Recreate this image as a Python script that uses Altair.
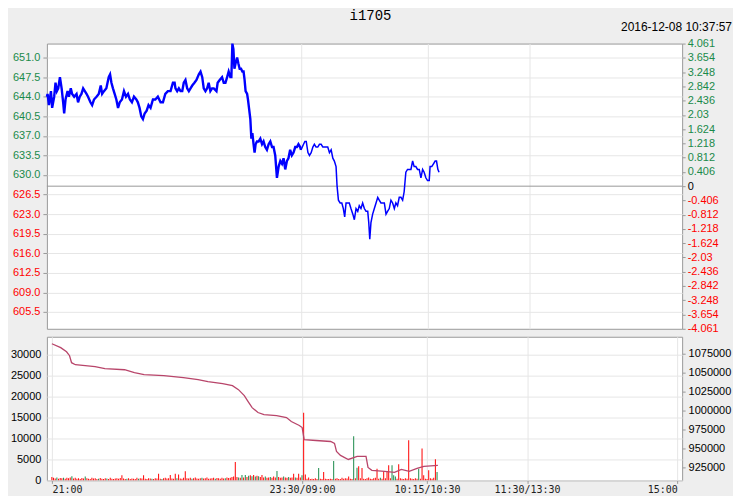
import altair as alt
import pandas as pd

# ---------------- data ----------------
TITLE = "i1705"
STAMP = "2016-12-08 10:37:57"
PREV_SETTLE = 628.0
PCT_MAX = 4.061

# trading-minute axis: 0=21:00, 150=23:30/09:00, 225=10:15/10:30, 285=11:30/13:30, 375=15:00
x_tick_vals = [0, 150, 225, 285, 375]
x_tick_labels = ["21:00", "23:30/09:00", "10:15/10:30", "11:30/13:30", "15:00"]

price_ticks = [651.0, 647.5, 644.0, 640.5, 637.0, 633.5, 630.0, 626.5, 623.0, 619.5, 616.0, 612.5, 609.0, 605.5]
pct_ticks = [4.061, 3.654, 3.248, 2.842, 2.436, 2.03, 1.624, 1.218, 0.812, 0.406, 0,
             -0.406, -0.812, -1.218, -1.624, -2.03, -2.436, -2.842, -3.248, -3.654, -4.061]
vol_ticks = [0, 5000, 10000, 15000, 20000, 25000, 30000]
oi_ticks = [925000, 950000, 975000, 1000000, 1025000, 1050000, 1075000]

night_t = [0.0, 0.4, 1.2, 2.4, 3.1, 4.3, 5.1, 5.9, 6.7, 7.7, 8.7, 9.6, 10.2, 11.0, 12.2, 13.0, 14.1, 14.9,
           16.1, 17.5, 18.4, 19.4, 20.4, 21.4, 22.4, 23.4, 24.3, 25.7, 26.7, 27.8, 29.3, 30.6, 31.8, 32.6,
           33.7, 35.1, 36.5, 37.3, 38.1, 39.0, 40.0, 41.0, 42.0, 43.0, 44.3, 45.5, 46.7, 47.9, 49.0, 50.2,
           51.4, 52.8, 53.7, 54.7, 55.7, 56.7, 57.7, 58.9, 60.0, 61.2, 62.6, 64.0, 65.5, 67.1, 68.5, 69.9,
           71.4, 73.0, 74.4, 75.4, 75.9, 76.9, 77.9, 78.9, 79.9, 80.8, 81.8, 82.8, 83.8, 84.8, 85.8, 87.1,
           88.3, 89.7, 90.7, 91.7, 92.6, 93.6, 94.6, 95.5, 96.5, 97.5, 98.5, 100.1, 100.8, 102.0, 103.4,
           104.4, 105.4, 106.4, 107.3, 108.3, 108.9, 109.5, 110.1, 110.7, 111.4, 112.3, 113.0, 113.8,
           114.6, 115.4, 116.1, 116.7, 117.3, 118.2, 118.7, 119.3, 120.1, 120.7, 121.3, 122.0, 122.6,
           123.2, 124.0, 125.0, 126.0, 127.0, 127.9, 128.9, 129.9, 130.9, 131.9, 132.9, 133.8, 134.8,
           135.8, 136.8, 137.8, 138.8, 139.7, 140.7, 141.7, 142.6, 143.6, 144.6, 145.6, 146.6, 147.6,
           148.5, 149.5, 150.0]
night_p = [644.0, 644.5, 642.5, 645.0, 642.0, 644.0, 646.5, 645.0, 645.5, 647.5, 645.5, 643.0, 641.0, 643.5,
           645.0, 644.0, 645.5, 644.5, 644.0, 644.5, 643.0, 644.0, 644.5, 645.5, 645.0, 644.5, 644.0, 643.0,
           642.5, 643.5, 644.0, 644.5, 646.0, 644.5, 645.0, 645.5, 647.5, 648.0, 646.5, 645.5, 644.5, 643.5,
           642.0, 643.0, 643.5, 645.0, 644.0, 644.5, 643.5, 643.0, 644.0, 643.5, 643.0, 642.0, 640.5, 640.0,
           641.0, 641.5, 642.5, 642.0, 643.5, 643.5, 644.0, 643.0, 643.0, 644.5, 645.0, 645.0, 646.5, 646.5,
           645.5, 645.0, 645.5, 645.0, 645.0, 646.5, 647.0, 645.5, 645.0, 645.5, 646.0, 646.5, 647.0, 648.0,
           648.5, 647.5, 645.5, 645.0, 645.5, 646.5, 645.0, 645.5, 645.5, 645.0, 646.5, 647.0, 647.5, 646.5,
           646.5, 647.5, 648.5, 647.5, 647.5, 653.5, 652.5, 649.0, 650.0, 651.0, 650.0, 649.0, 649.0, 648.5,
           648.5, 647.0, 645.0, 644.5, 643.5, 642.0, 640.0, 636.5, 637.5, 635.5, 634.0, 635.5, 636.0, 636.0,
           636.5, 635.5, 636.0, 635.0, 634.5, 635.5, 636.0, 635.0, 635.0, 633.5, 629.5, 631.5, 632.5, 632.0,
           633.0, 631.0, 632.5, 633.0, 634.5, 633.5, 634.0, 635.0, 635.0, 635.5, 635.0, 634.5]

day_t = [150.0, 151.5, 152.3, 153.1, 154.1, 155.0, 156.0, 157.0, 157.9, 158.9, 159.9, 160.9, 161.9, 162.9,
         163.8, 164.8, 165.8, 166.8, 167.8, 168.8, 169.7, 170.7, 171.3, 172.1, 173.1, 174.1, 175.0, 175.8,
         176.6, 177.6, 178.5, 179.5, 180.6, 181.5, 182.5, 183.5, 184.4, 185.4, 186.4, 187.4, 188.4, 189.4,
         190.0, 190.6, 191.3, 192.3, 193.3, 194.3, 195.3, 196.2, 197.2, 198.2, 199.2, 200.2, 201.1, 202.1,
         203.1, 204.1, 205.1, 206.0, 207.0, 208.0, 209.0, 210.0, 210.9, 211.9, 212.9, 213.9, 214.9, 215.9,
         216.8, 217.8, 218.8, 219.8, 220.8, 221.8, 222.7, 223.7, 224.7, 225.7, 226.2, 227.2, 228.2, 229.2,
         230.0, 230.8, 231.5]
day_p = [634.5, 635.5, 636.0, 636.0, 634.0, 633.5, 634.0, 635.0, 635.5, 635.0, 635.0, 635.5, 635.5, 635.0,
         635.0, 635.0, 635.0, 634.0, 634.5, 633.0, 632.5, 631.5, 628.0, 625.5, 625.0, 625.0, 624.0, 622.5,
         625.0, 625.0, 625.0, 624.0, 623.0, 622.0, 624.0, 623.5, 624.5, 624.0, 625.0, 624.0, 623.5, 623.5,
         621.5, 618.5, 621.5, 623.0, 624.0, 625.0, 626.0, 625.5, 625.0, 625.0, 625.0, 623.0, 623.5, 624.0,
         625.5, 625.0, 624.0, 625.0, 624.5, 626.0, 626.0, 625.5, 627.0, 630.5, 631.0, 631.0, 631.0, 632.5,
         631.5, 631.5, 631.0, 631.0, 629.5, 631.0, 630.5, 629.5, 629.0, 629.0, 631.5, 631.5, 632.0, 632.5,
         632.5, 631.0, 630.5]

# volume per trading minute (0..231) and bar direction (R up / G down)
volume = [
    800, 600, 450, 700, 400, 550, 500, 650, 400, 600,
    500, 700, 1000, 450, 600, 400, 500, 350, 550, 450,
    950, 500, 400, 350, 600, 450, 500, 300, 400, 550,
    400, 350, 500, 450, 300, 600, 400, 350, 450, 500,
    400, 550, 1200, 450, 350, 400, 500, 300, 450, 400,
    350, 600, 400, 500, 450, 1200, 400, 350, 500, 450,
    400, 350, 500, 450, 1600, 400, 350, 500, 600, 450,
    500, 1300, 450, 400, 1600, 500, 1400, 450, 400, 600,
    2150, 500, 450, 600, 400, 500, 700, 450, 400, 500,
    600, 450, 500, 700, 400, 450, 500, 600, 400, 550,
    500, 400, 600, 450, 500, 700, 550, 600, 800, 900,
    4400, 800, 700, 600, 1300, 700, 1300, 800, 1100, 1200,
    1000, 1300, 900, 1100, 1000, 800, 1300, 700, 900, 600,
    700, 800, 600, 900, 700, 2250, 800, 600, 700, 900,
    700, 600, 800, 600, 700, 1600, 700, 600, 1600, 700,
    1200, 16150, 1400, 400, 700, 300, 400, 300, 500, 300,
    2960, 400, 300, 2000, 400, 300, 350, 400, 300, 4640,
    400, 500, 350, 300, 600, 400, 500, 450, 950, 400,
    300, 10560, 500, 3040, 3360, 500, 2960, 400, 300, 500,
    700, 400, 300, 500, 600, 2800, 400, 600, 400, 2160,
    500, 2240, 3600, 500, 3600, 1200, 900, 400, 3840, 500,
    400, 300, 500, 400, 9600, 500, 400, 350, 500, 400,
    2800, 400, 7600, 1200, 400, 300, 2400, 500, 400, 600,
    5040, 2000]
direction = (
    "RRRGRRRGRR" "RRGRRRRRRR" "GRRRRRRRGR" "RRRGRRRRRR" "RRRRRGRRRR"
    "RRGRRRRRRR" "GRRRRRGRRR" "RRRRRGRRRR" "RRRRGRRRRR" "GRRRRRRRGR"
    "RRRRGRRRRR" "RRGRGRGRGR" "GRGRGRRRGR" "RGRRRGRRRG" "RRGRRRGRRR"
    "GRRRRRRRRR" "GRRRRRRRRG" "RRRRRRRRRR" "RGRGRRRRRR" "RRRRRRRGRR"
    "RRRRGGGRRR" "RRRRRRRRRR" "GRRRRRRRRR" "RG")

oi_t = [0, 5.3, 8.8, 10.6, 11.8, 14.1, 20.0, 25.9, 31.8, 43.6, 49.5, 55.3, 67.1, 78.9, 87.7, 93.6, 102.4,
        108.3, 111.9, 115.4, 117.7, 120.1, 123.6, 127.2, 134.8, 140.7, 143.6, 148.4, 150.1, 151.3, 158.4,
        167.2, 169.5, 170.7, 173.1, 177.8, 183.1, 188.4, 189.6, 191.9, 199.6, 205.5, 209.6, 214.3, 219.0,
        223.1, 231.5]
oi_v = [1088200, 1083000, 1077600, 1072400, 1063200, 1060500, 1059200, 1057900, 1055300, 1053900, 1050000,
        1047400, 1046100, 1043400, 1040800, 1038200, 1035500, 1032900, 1027600, 1019700, 1011800, 1003900,
        997400, 994700, 993400, 990800, 985500, 980300, 977600, 961800, 960500, 959200, 956600, 946100,
        940800, 935500, 939500, 939500, 925000, 921100, 919700, 918400, 922400, 919700, 923700, 926300,
        927600]

# ---------------- frames ----------------
price_df = pd.concat([
    pd.DataFrame({"t": night_t, "p": night_p, "seg": "night"}),
    pd.DataFrame({"t": day_t, "p": day_p, "seg": "day"}),
])
vol_df = pd.DataFrame({"t": list(range(len(volume))), "v": volume, "d": list(direction)})
oi_df = pd.DataFrame({"t": oi_t, "oi": oi_v})

GREEN = "#1a8a4a"
RED = "#ff0000"
GRID = "#e6e6e6"
W, H1, H2 = 637, 286, 144
HALF = PREV_SETTLE * PCT_MAX / 100

xscale = alt.Scale(domain=[x_tick_vals[0], x_tick_vals[-1]], nice=False, zero=False)
label_expr = " : ".join(
    f"datum.value == {v} ? '{l}'" for v, l in zip(x_tick_vals[:-1], x_tick_labels[:-1])
) + f" : '{x_tick_labels[-1]}'"
label_align = {"condition": [{"test": f"datum.value == {x_tick_vals[0]}", "value": "left"},
                             {"test": f"datum.value == {x_tick_vals[-1]}", "value": "right"}],
               "value": "center"}

# ---------------- upper panel ----------------
price_line = alt.Chart(price_df).mark_line(color="#0000ff").encode(
    x=alt.X("t:Q", scale=xscale,
            axis=alt.Axis(values=x_tick_vals[1:4], grid=True, labels=False, ticks=False,
                          domain=False, title=None, gridColor=GRID)),
    y=alt.Y("p:Q",
            scale=alt.Scale(domain=[PREV_SETTLE - HALF, PREV_SETTLE + HALF], nice=False, zero=False),
            axis=alt.Axis(orient="left", values=price_ticks, format=".1f", title=None,
                          labelColor=alt.condition(f"datum.value > {PREV_SETTLE}", alt.value(GREEN), alt.value(RED)),
                          grid=True, gridColor=GRID, domain=False, tickSize=4, labelPadding=3,
                          minExtent=38)),
    strokeWidth=alt.StrokeWidth("seg:N", scale=alt.Scale(domain=["night", "day"], range=[2.4, 1.5]),
                                legend=None),
)

zero_rule = alt.Chart(pd.DataFrame({"z": [0]})).mark_rule(color="#999999", strokeWidth=1).encode(
    y=alt.Y("z:Q", scale=alt.Scale(domain=[-PCT_MAX, PCT_MAX], nice=False, zero=False),
            axis=alt.Axis(orient="right", values=pct_ticks, title=None, labelExpr="datum.value",
                          labelColor={"condition": [{"test": "datum.value > 0", "value": GREEN},
                                                    {"test": "datum.value < 0", "value": RED}],
                                      "value": "#000000"},
                          grid=False, domain=False, tickSize=3, labelPadding=2)),
)

upper = alt.layer(zero_rule, price_line).resolve_scale(y="independent").properties(
    width=W, height=H1,
    title=alt.TitleParams(text=STAMP, anchor="end", frame="group", dx=50, offset=4,
                          fontSize=12, font="Liberation Sans", fontWeight="normal", color="#000000"),
)

# ---------------- lower panel ----------------
vol_bars = alt.Chart(vol_df).mark_bar(size=1).encode(
    x=alt.X("t:Q", scale=xscale,
            axis=alt.Axis(values=x_tick_vals, labelExpr=label_expr, labelFlush=False,
                          labelAlign=label_align, title=None,
                          grid=True, gridColor=GRID, domain=False, tickSize=3, labelPadding=1,
                          labelFont="DejaVu Sans Mono", labelFontSize=10, labelColor="#222222")),
    y=alt.Y("v:Q", scale=alt.Scale(domain=[0, 34300], nice=False, zero=True),
            axis=alt.Axis(orient="left", values=vol_ticks, format="d", title=None, grid=True,
                          gridColor=GRID, domain=False, ticks=False, labelPadding=6, minExtent=38,
                          labelColor="#000000")),
    color=alt.Color("d:N", scale=alt.Scale(domain=["R", "G"], range=[RED, GREEN]), legend=None),
)

oi_line = alt.Chart(oi_df).mark_line(color="#b8456a", strokeWidth=1.3).encode(
    x=alt.X("t:Q", scale=xscale),
    y=alt.Y("oi:Q", scale=alt.Scale(domain=[907900, 1097400], nice=False, zero=False),
            axis=alt.Axis(orient="right", values=oi_ticks, format="d", title=None, grid=False,
                          domain=False, tickSize=3, labelPadding=3, labelColor="#000000")),
)

lower = alt.layer(vol_bars, oi_line).resolve_scale(y="independent").properties(width=W, height=H2)

chart = alt.vconcat(
    upper, lower, spacing=8, bounds="flush",
    title=alt.TitleParams(text=TITLE, anchor="middle", fontSize=14, font="Liberation Mono",
                          fontWeight="normal", color="#000000", offset=-3),
).properties(
    padding={"left": 0, "right": 0, "top": 0, "bottom": 0},
    background="#eeeeee",
).configure_view(
    stroke="#9a9a9a", fill="white",
).configure_axis(
    labelFont="Liberation Sans", labelFontSize=11, tickColor="#9a9a9a",
)

chart.save("out.html", embed_options={"renderer": "svg", "actions": False})
